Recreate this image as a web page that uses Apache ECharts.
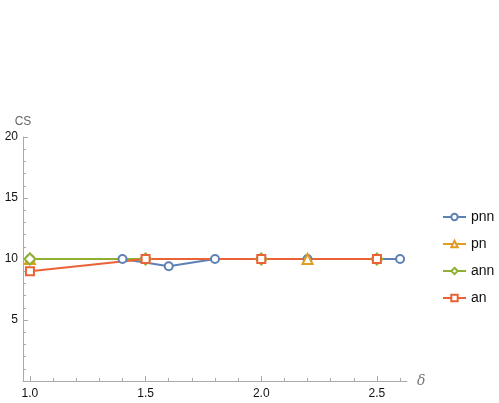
<!DOCTYPE html>
<html>
<head>
<meta charset="utf-8">
<script src="https://cdn.jsdelivr.net/npm/echarts@6/dist/echarts.min.js"></script>
<style>
  html, body { margin: 0; padding: 0; background: #fff; }
  #chart { width: 499px; height: 403px; }
</style>
</head>
<body>
<div id="chart"></div>
<script>
// values
const seriesNames = ["pnn", "pn", "ann", "an"];
const deltaPnn = [1.0, 1.4, 1.6, 1.8, 2.2, 2.6];
const csPnn = [10, 10, 9.4, 10, 10, 10];
const deltaPn = [1.0, 2.2];
const csPn = [10, 10];
const deltaAnn = [1.0, 1.5, 2.0, 2.5];
const csAnn = [10, 10, 10, 10];
const deltaAn = [1.0, 1.5, 2.0, 2.5];
const csAn = [9, 10, 10, 10];

const xMajorTicks = [1.0, 1.5, 2.0, 2.5];
const xMinorTicks = [1.1, 1.2, 1.3, 1.4, 1.6, 1.7, 1.8, 1.9, 2.1, 2.2, 2.3, 2.4, 2.6];
const yTicks = [5, 10, 15, 20];

const colors = ["#5e81b5", "#e19c24", "#8fb032", "#eb6235"];
const symbols = ["emptyCircle", "emptyTriangle", "emptyDiamond", "emptyRect"];
const sizes = [8, 10, 11, 8];

const pairs = (xs, ys) => xs.map((x, i) => [x, ys[i]]);
const dataSets = [
  pairs(deltaPnn, csPnn),
  pairs(deltaPn, csPn),
  pairs(deltaAnn, csAnn),
  pairs(deltaAn, csAn),
];

const chart = echarts.init(document.getElementById("chart"), null, { renderer: "canvas" });

// lines first, then markers on top (like Mathematica)
const lineSeries = seriesNames.map((name, i) => ({
  name,
  type: "line",
  data: dataSets[i],
  symbol: symbols[i],
  symbolSize: 7,
  showSymbol: false,
  z: 2,
  lineStyle: { width: 2, color: colors[i] },
  itemStyle: { color: colors[i], borderWidth: 1.5 },
}));
const markerSeries = seriesNames.map((name, i) => ({
  name: name + "_marks",
  type: "line",
  data: dataSets[i],
  symbol: symbols[i],
  symbolSize: sizes[i],
  showSymbol: true,
  z: 3 + i,
  lineStyle: { width: 0, opacity: 0 },
  itemStyle: { color: colors[i], borderWidth: 1.6 },
}));

const axisGray = "#aaaaaa";
const font = "Liberation Sans, Arial, sans-serif";

chart.setOption({
  animation: false,
  grid: { left: 23, top: 137, width: 384, height: 244, containLabel: false, outerBoundsMode: "none" },
  legend: {
    data: seriesNames,
    orient: "vertical",
    left: 437,
    top: 205,
    itemWidth: 23,
    itemHeight: 8,
    itemGap: 13,
    textStyle: { fontSize: 14, color: "#111", fontFamily: font },
  },
  xAxis: [
    {
      type: "value",
      min: 0.97,
      max: 2.63,
      name: "δ",
      nameLocation: "end",
      nameGap: 10,
      nameTextStyle: { color: "#777", fontStyle: "italic", fontSize: 14, fontFamily: "DejaVu Serif, serif" },
      axisLine: { show: true, lineStyle: { color: axisGray, width: 1 } },
      axisTick: { show: true, inside: true, length: 5, lineStyle: { color: axisGray }, customValues: xMajorTicks },
      axisLabel: {
        customValues: xMajorTicks,
        formatter: (v) => v.toFixed(1),
        color: "#111",
        fontSize: 12,
        margin: 7,
        fontFamily: font,
      },
      splitLine: { show: false },
    },
    {
      type: "value",
      min: 0.97,
      max: 2.63,
      position: "bottom",
      offset: 0,
      axisLine: { show: false },
      axisTick: { show: true, inside: true, length: 3, lineStyle: { color: axisGray }, customValues: xMinorTicks },
      axisLabel: { show: false },
      splitLine: { show: false },
    },
  ],
  yAxis: {
    type: "value",
    min: 0,
    max: 20,
    interval: 5,
    name: "CS",
    nameLocation: "end",
    nameGap: 9,
    nameTextStyle: { color: "#666", fontSize: 12, align: "center", fontFamily: font },
    axisLine: { show: true, lineStyle: { color: axisGray, width: 1 } },
    axisTick: { show: true, inside: true, length: 5, lineStyle: { color: axisGray }, customValues: yTicks },
    minorTick: { show: true, splitNumber: 5, length: 3, lineStyle: { color: axisGray } },
    axisLabel: {
      customValues: yTicks,
      color: "#111",
      fontSize: 12,
      margin: 5,
      fontFamily: font,
    },
    splitLine: { show: false },
  },
  series: lineSeries.concat(markerSeries),
});
</script>
</body>
</html>
